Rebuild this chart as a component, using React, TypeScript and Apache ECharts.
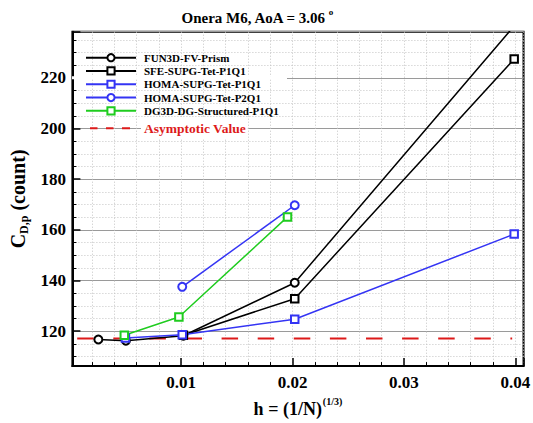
import React, { useEffect, useRef } from 'react';
import * as echarts from 'echarts';

// ---- data ----
const fun3dH = [0.00257, 0.00504, 0.0102, 0.0202, 0.04];
const fun3dCD = [116.7, 116.2, 118.2, 139.1, 241.0];
const sfeH = [0.0102, 0.0202, 0.0399];
const sfeCD = [118.4, 132.8, 227.4];
const homaP1H = [0.005, 0.0101, 0.0202, 0.0399];
const homaP1CD = [117.3, 118.6, 124.7, 158.3];
const homaP2H = [0.0101, 0.0202];
const homaP2CD = [137.5, 169.7];
const dg3dH = [0.0049, 0.0098, 0.01955];
const dg3dCD = [118.4, 125.6, 165.1];
const asymptoteH = [0.00067, 0.03972];
const asymptoteCD = [117.1, 117.1];

const seriesNames = [
  'FUN3D-FV-Prism',
  'SFE-SUPG-Tet-P1Q1',
  'HOMA-SUPG-Tet-P1Q1',
  'HOMA-SUPG-Tet-P2Q1',
  'DG3D-DG-Structured-P1Q1',
  'Asymptotic Value',
];

const BLACK = '#000000';
const BLUE = '#3434f4';
const GREEN = '#1fcc1f';
const RED = '#dd1a1a';
const FONT = 'Liberation Serif';

const pairs = (xs: number[], ys: number[]) => xs.map((x, i) => [x, ys[i]]);

const lineSeries = (name: string, xs: number[], ys: number[], color: string, symbol: string, size: number) => ({
  name,
  type: 'line',
  data: pairs(xs, ys),
  symbol,
  symbolSize: size,
  showAllSymbol: true,
  clip: true,
  z: 3,
  lineStyle: { color, width: 1.5 },
  itemStyle: { color, borderColor: color, borderWidth: 1.2 },
  emphasis: { disabled: true },
});

export default function App() {
  const ref = useRef<HTMLDivElement>(null);

  useEffect(() => {
    document.body.style.margin = '0';
    if (!ref.current) return;
    const chart = echarts.init(ref.current, undefined, { renderer: 'svg' });

    const dottedGrid = { show: true, lineStyle: { color: '#c4c4c4', width: 1, type: [1, 2] } };

    chart.setOption({
      animation: false,
      backgroundColor: '#ffffff',
      textStyle: { fontFamily: FONT },
      grid: {
        left: 63.3,
        right: 6.3,
        top: 31.7,
        bottom: 46.3,
        show: true,
        borderColor: '#000',
        borderWidth: 2,
        backgroundColor: 'transparent',
      },
      legend: {
        orient: 'vertical',
        left: 85,
        top: 51,
        padding: 0,
        itemGap: 0,
        itemWidth: 50,
        itemHeight: 9,
        selectedMode: false,
        lineStyle: { width: 2 },
        textStyle: {
          fontFamily: FONT,
          fontWeight: 'bold',
          fontSize: 11,
          color: '#000',
          lineHeight: 13.3,
          padding: [0, 0, 0, 3],
        },
        data: [
          seriesNames[0],
          seriesNames[1],
          seriesNames[2],
          seriesNames[3],
          seriesNames[4],
          {
            name: seriesNames[5],
            icon: 'path://M-4,0.95h0.05v0.1h-0.05z M0,0h7.5v2h-7.5z M16,0h7.5v2h-7.5z M32,0h8v2h-8z M45.95,0.95h0.05v0.1h-0.05z',
            itemStyle: { color: RED },
            textStyle: {
              fontSize: 13.5,
              color: RED,
              lineHeight: 21.3,
              backgroundColor: '#fff',
              padding: [0, 2, 0, 3],
            },
          },
        ],
      },
      xAxis: {
        type: 'value',
        min: 0.00024,
        max: 0.04074,
        splitNumber: 4,
        name: '{m|h = (1/N)}{s|(1/3)}',
        nameLocation: 'middle',
        nameGap: 21,
        nameTextStyle: {
          rich: {
            m: { fontFamily: FONT, fontWeight: 'bold', fontSize: 18, color: '#000', lineHeight: 22, verticalAlign: 'bottom' },
            s: { fontFamily: FONT, fontWeight: 'bold', fontSize: 10, color: '#000', lineHeight: 22, verticalAlign: 'top', padding: [0, 0, 0, 1] },
          },
        },
        axisLine: { show: true, lineStyle: { color: '#000', width: 2 } },
        axisTick: { show: true, inside: true, length: 8, lineStyle: { color: '#000', width: 1.5 } },
        minorTick: { show: true, splitNumber: 5, length: 4, lineStyle: { color: '#000', width: 1 } },
        axisLabel: {
          showMinLabel: false,
          showMaxLabel: false,
          fontFamily: FONT,
          fontWeight: 'bold',
          fontSize: 17,
          color: '#000',
          margin: 8,
        },
        splitLine: dottedGrid,
        minorSplitLine: dottedGrid,
      },
      yAxis: {
        type: 'value',
        min: 106.2,
        max: 238.2,
        splitNumber: 6,
        name: '{c|C}{sub|D,p}{c| (count)}',
        nameLocation: 'middle',
        nameGap: 27,
        nameRotate: 90,
        nameTextStyle: {
          rich: {
            c: { fontFamily: FONT, fontWeight: 'bold', fontSize: 20, color: '#000', lineHeight: 23, verticalAlign: 'middle' },
            sub: { fontFamily: FONT, fontWeight: 'bold', fontSize: 12, color: '#000', lineHeight: 12, verticalAlign: 'bottom' },
          },
        },
        axisLine: { show: true, lineStyle: { color: '#000', width: 2 } },
        axisTick: { show: true, inside: true, length: 8, lineStyle: { color: '#000', width: 1.5 } },
        minorTick: { show: true, splitNumber: 4, length: 4, lineStyle: { color: '#000', width: 1 } },
        axisLabel: {
          showMinLabel: false,
          showMaxLabel: false,
          fontFamily: FONT,
          fontWeight: 'bold',
          fontSize: 17,
          color: '#000',
          margin: 6.5,
        },
        splitLine: { show: true, lineStyle: { color: '#9a9a9a', width: 1 } },
        minorSplitLine: dottedGrid,
      },
      series: [
        lineSeries(seriesNames[0], fun3dH, fun3dCD, BLACK, 'emptyCircle', 8),
        lineSeries(seriesNames[1], sfeH, sfeCD, BLACK, 'emptyRect', 7.5),
        lineSeries(seriesNames[2], homaP1H, homaP1CD, BLUE, 'emptyRect', 7.5),
        lineSeries(seriesNames[3], homaP2H, homaP2CD, BLUE, 'emptyCircle', 8),
        lineSeries(seriesNames[4], dg3dH, dg3dCD, GREEN, 'emptyRect', 7.5),
        {
          name: seriesNames[5],
          type: 'line',
          data: pairs(asymptoteH, asymptoteCD),
          symbol: 'none',
          z: 2,
          lineStyle: { color: RED, width: 2.2, type: [16.5, 19.6] },
          itemStyle: { color: RED },
          emphasis: { disabled: true },
        },
      ],
    });

    const y220 = chart.convertToPixel({ yAxisIndex: 0 }, 220) as number;

    chart.setOption({
      graphic: [
        {
          type: 'text',
          x: 257,
          y: 16,
          z: 10,
          silent: true,
          style: {
            text: '{m|Onera M6, AoA = 3.06}{s|o}',
            align: 'center',
            verticalAlign: 'middle',
            rich: {
              m: { fontFamily: FONT, fontWeight: 'bold', fontSize: 15, fill: '#000', lineHeight: 18, verticalAlign: 'bottom' },
              s: { fontFamily: FONT, fontWeight: 'bold', fontSize: 9, fill: '#000', lineHeight: 18, verticalAlign: 'top', padding: [0, 0, 0, 3] },
            },
          },
        },
        {
          type: 'rect',
          z: 3,
          silent: true,
          shape: { x: 72, y: y220 - 1.5, width: 215, height: 3 },
          style: { fill: '#fff' },
        },
      ],
    });

    return () => chart.dispose();
  }, []);

  return <div ref={ref} style={{ width: 533, height: 423 }} />;
}
